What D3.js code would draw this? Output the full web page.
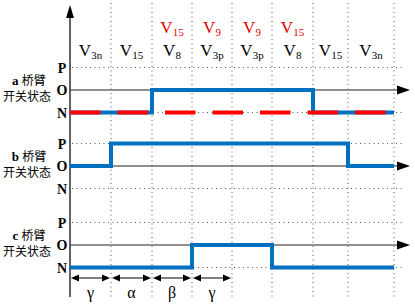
<!DOCTYPE html>
<html><head><meta charset="utf-8">
<script src="https://cdn.jsdelivr.net/npm/d3@7"></script>
<style>body{margin:0;background:#fff}svg{display:block}</style>
</head><body>
<script>
// ---- data ----
const edges = [0, 41, 82, 122, 162, 202, 243, 278, 324];          // segment boundaries (time units)
const vectorLabels = ["3n", "15", "8", "3p", "3p", "8", "15", "3n"];
const redLabels = [null, null, "15", "9", "9", "15", null, null];
const phases = ["a", "b", "c"];
const levels = ["P", "O", "N"];
const stateA = ["N", "N", "O", "O", "O", "O", "N", "N"];
const stateB = ["O", "P", "P", "P", "P", "P", "P", "O"];
const stateC = ["N", "N", "N", "O", "O", "N", "N", "N"];
const intervalLabels = ["γ", "α", "β", "γ"];

const W = 415, H = 304;
const svg = d3.select("body").append("svg").attr("width", W).attr("height", H);
const x = d3.scaleLinear().domain([0, 324]).range([70, 394]);
const yPhase = d3.scaleOrdinal().domain(phases).range([90, 166, 245]);
const yLevel = d3.scalePoint().domain(levels).range([-22.5, 22.5]);
const y = (ph, lv) => yPhase(ph) + yLevel(lv);
const serif = "'Liberation Serif','Times New Roman',serif";
const cjk = "'Noto Sans CJK SC','Noto Sans CJK JP',sans-serif";

// dotted grid: vertical
svg.append("g").selectAll("line").data(edges.slice(1)).join("line")
  .attr("x1", d => x(d)).attr("x2", d => x(d)).attr("y1", 3).attr("y2", 297)
  .attr("stroke", "#555").attr("stroke-width", 1).attr("stroke-dasharray", "1,3.5");
// dotted grid: P and N levels
const dotRows = [];
phases.forEach(p => ["P", "N"].forEach(l => dotRows.push(y(p, l))));
svg.append("g").selectAll("line").data(dotRows).join("line")
  .attr("x1", 72).attr("x2", 405).attr("y1", d => d).attr("y2", d => d)
  .attr("stroke", "#555").attr("stroke-width", 1).attr("stroke-dasharray", "1,3.5");

// O axis lines with arrowheads
phases.forEach(p => {
  const yy = y(p, "O");
  svg.append("line").attr("x1", 70).attr("x2", 400).attr("y1", yy).attr("y2", yy)
    .attr("stroke", "#222").attr("stroke-width", 1.2);
  svg.append("path").attr("d", `M410,${yy} L397,${yy - 4.5} L397,${yy + 4.5} Z`).attr("fill", "#000");
});

// vertical axis
svg.append("line").attr("x1", 70).attr("x2", 70).attr("y1", 12).attr("y2", 297)
  .attr("stroke", "#222").attr("stroke-width", 1.4);
svg.append("path").attr("d", "M70,5 L66,18 L74,18 Z").attr("fill", "#000");

// state step lines
const stateData = { a: stateA, b: stateB, c: stateC };
const line = d3.line().curve(d3.curveStepAfter);
phases.forEach(p => {
  const st = stateData[p];
  const pts = st.map((s, i) => [x(edges[i]), y(p, s)]);
  pts.push([x(edges[edges.length - 1]), y(p, st[st.length - 1])]);
  svg.append("path").attr("d", line(pts)).attr("fill", "none")
    .attr("stroke", "#0070c0").attr("stroke-width", 4);
});
// red dashed N line for phase a
svg.append("line").attr("x1", x(edges[0])).attr("x2", x(edges[edges.length - 1]))
  .attr("y1", y("a", "N")).attr("y2", y("a", "N"))
  .attr("stroke", "#ff0000").attr("stroke-width", 4).attr("stroke-dasharray", "30.5,17");

// level labels P O N
phases.forEach(p => levels.forEach(l => {
  svg.append("text").attr("x", 62).attr("y", y(p, l) + 5).attr("text-anchor", "middle")
    .attr("font-family", serif).attr("font-weight", "bold").attr("font-size", 14).text(l);
}));
// phase labels
phases.forEach(p => {
  const t1 = svg.append("text").attr("x", 29).attr("y", y(p, "O") - 5).attr("text-anchor", "middle")
    .attr("font-size", 12);
  t1.append("tspan").attr("font-family", serif).attr("font-weight", "bold").attr("font-size", 13).text(p + " ");
  t1.append("tspan").attr("font-family", cjk).text("桥臂");
  svg.append("text").attr("x", 27).attr("y", y(p, "O") + 11).attr("text-anchor", "middle")
    .attr("font-family", cjk).attr("font-size", 12).text("开关状态");
});

// vector labels
const mids = vectorLabels.map((_, i) => (x(edges[i]) + x(edges[i + 1])) / 2);
function vLabel(cx, base, sub, color) {
  const t = svg.append("text").attr("x", cx).attr("y", base).attr("text-anchor", "middle")
    .attr("font-family", serif).attr("font-size", 17).attr("fill", color);
  t.append("tspan").text("V");
  t.append("tspan").attr("font-size", 11).attr("dy", 3).text(sub);
}
vectorLabels.forEach((s, i) => vLabel(mids[i], 56, s, "#000"));
redLabels.forEach((s, i) => { if (s) vLabel(mids[i], 33, s, "#e00000"); });

// interval arrows
intervalLabels.forEach((lab, i) => {
  const x0 = x(edges[i]), x1 = x(edges[i + 1]), yy = 278;
  svg.append("line").attr("x1", x0 + 3).attr("x2", x1 - 3).attr("y1", yy).attr("y2", yy)
    .attr("stroke", "#000").attr("stroke-width", 1.2);
  svg.append("path").attr("d", `M${x0 + 1},${yy} L${x0 + 9},${yy - 3.5} L${x0 + 9},${yy + 3.5} Z`).attr("fill", "#000");
  svg.append("path").attr("d", `M${x1 - 1},${yy} L${x1 - 9},${yy - 3.5} L${x1 - 9},${yy + 3.5} Z`).attr("fill", "#000");
  svg.append("text").attr("x", (x0 + x1) / 2).attr("y", 298).attr("text-anchor", "middle")
    .attr("font-family", serif).attr("font-size", 16).text(lab);
});
</script>
</body></html>
